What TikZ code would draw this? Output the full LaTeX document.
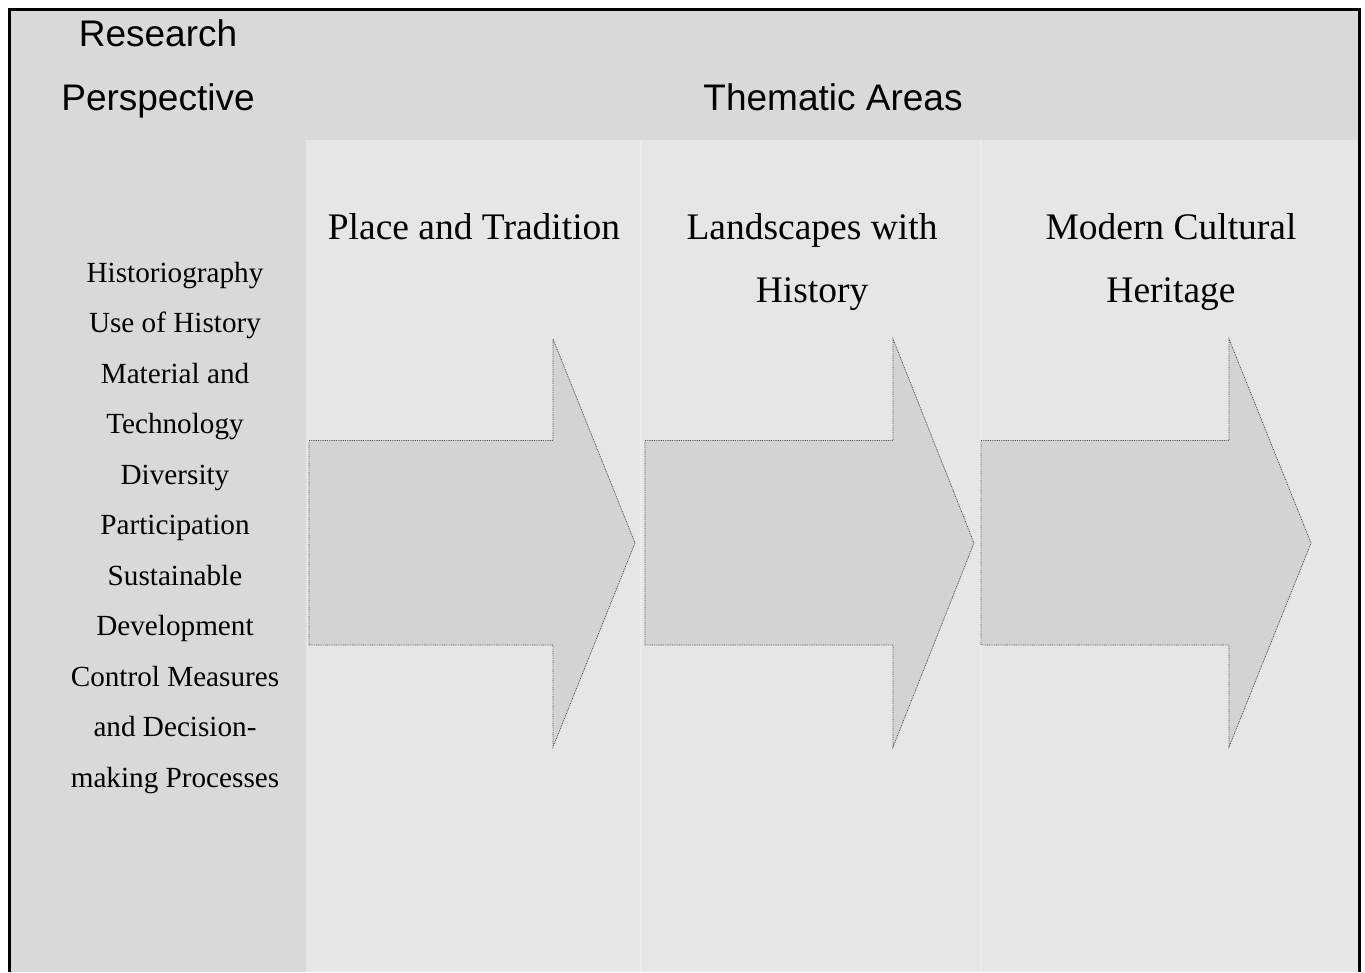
\documentclass[tikz,border=0pt]{standalone}
\usepackage{fontspec}
\setmainfont{Liberation Serif}
\newfontfamily\headfont{Liberation Sans}
\definecolor{bandgray}{HTML}{D9D9D9}
\definecolor{colgray}{HTML}{E6E6E6}
\definecolor{seamgray}{HTML}{ECECEC}
\definecolor{arrowfill}{HTML}{D3D3D3}
\definecolor{arrowline}{HTML}{555555}
\begin{document}
\begin{tikzpicture}[x=1pt,y=-1pt,
  headtext/.style={anchor=base,inner sep=0pt,font=\headfont\fontsize{37}{44}\selectfont},
  themetext/.style={anchor=base,inner sep=0pt,font=\fontsize{37.5}{44}\selectfont},
  listtext/.style={anchor=base,inner sep=0pt,font=\fontsize{29.2}{34}\selectfont},
  flowarrow/.style={fill=arrowfill,draw=arrowline,line width=0.8pt,
    dash pattern=on 0.9pt off 0.9pt,line join=miter}]
\useasboundingbox (0,0) rectangle (1365,972);
% background bands
\fill[white] (0,0) rectangle (1365,972);
\fill[colgray] (306,140) rectangle (1358,972);
\fill[bandgray] (11,11) rectangle (1358,140);
\fill[bandgray] (11,11) rectangle (306,972);
% faint seams between the theme columns
\draw[seamgray,line width=1.2pt] (641,140) -- (641,972);
\draw[seamgray,line width=1.2pt] (981,140) -- (981,972);
% frame, open at the bottom
\draw[black,line width=3pt] (9.5,972) -- (9.5,9.5) -- (1359.5,9.5) -- (1359.5,972);
% header texts
\node[headtext] (rp1) at (158,46.5) {Research};
\node[headtext] (rp2) at (158,110.5) {Perspective};
\node[headtext] (ta) at (833,110.5) {Thematic Areas};
% theme titles
\node[themetext] (t1) at (474,239) {Place and Tradition};
\node[themetext] (t2a) at (812,239) {Landscapes with};
\node[themetext] (t2b) at (812,302.5) {History};
\node[themetext] (t3a) at (1171,239) {Modern Cultural};
\node[themetext] (t3b) at (1171,302.5) {Heritage};
% research perspectives
\foreach \txt [count=\i from 0] in {Historiography,Use of History,Material and,Technology,Diversity,Participation,Sustainable,Development,Control Measures,and Decision-,making Processes}
  \node[listtext] (p\i) at (175,282+50.5*\i) {\txt};
% block arrows
\foreach \x/\h/\t [count=\k] in {309/553/635,645/893/974,981/1229/1311}
  \draw[flowarrow] (\x,440.5) -- (\h,440.5) -- (\h,339) -- (\t,543)
     -- (\h,747) -- (\h,645) -- (\x,645) -- cycle;
\end{tikzpicture}
\end{document}
